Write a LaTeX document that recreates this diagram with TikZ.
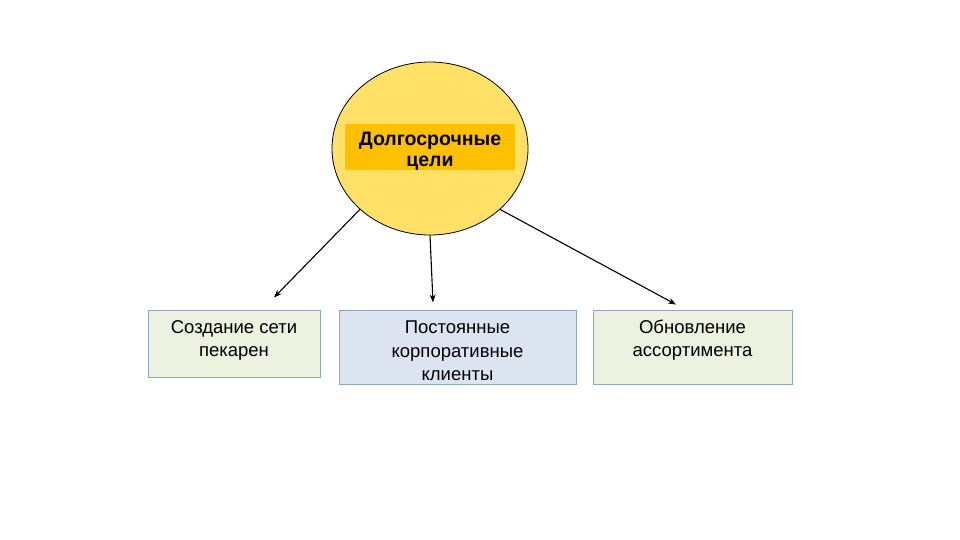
\documentclass[tikz,border=0pt]{standalone}
\usepackage{fontspec}
\setmainfont{Liberation Sans}
\usetikzlibrary{shapes.geometric,arrows.meta,calc}
\definecolor{circfill}{HTML}{FFE168}
\definecolor{orangebar}{HTML}{FFC000}
\definecolor{greenbox}{HTML}{EDF1E0}
\definecolor{bluebox}{HTML}{DBE4F0}
\definecolor{boxline}{HTML}{8CA6C6}
\tikzset{
  boxshape/.style={draw=boxline, line width=1pt, inner sep=0pt},
  boxtxt/.style={align=center, inner sep=0pt, anchor=north, font=\fontsize{18.5}{23.5}\selectfont},
  arr/.style={-{Stealth[length=8pt,width=6pt]}, line width=1.1pt, black},
}
\begin{document}
\begin{tikzpicture}[x=1pt,y=-1pt]
\useasboundingbox[fill=white] (0,0) rectangle (960,540);
% central ellipse
\node[ellipse, draw=black, line width=0.8pt, fill=circfill, minimum width=196pt, minimum height=173pt, inner sep=0pt] (c) at (430,148.5) {};
\node[fill=orangebar, minimum width=170pt, minimum height=46pt, inner sep=0pt] (bar) at (430,147) {};
\node[align=center, inner sep=0pt, font=\bfseries\fontsize{19.5}{20.5}\selectfont] (ctxt) at ($(bar.center)+(0,4)$) {Долгосрочные\\цели};
% boxes
\node[boxshape, fill=greenbox, minimum width=172pt, minimum height=67pt] (b1) at (234,343.5) {};
\node[boxshape, fill=bluebox, minimum width=237pt, minimum height=74pt] (b2) at (457.5,347) {};
\node[boxshape, fill=greenbox, minimum width=199pt, minimum height=74pt] (b3) at (692.5,347) {};
\node[boxtxt] (t1) at ($(b1.north)+(0,10.5)$) {Создание сети\\пекарен};
\node[boxtxt] (t2) at ($(b2.north)+(0,11.5)$) {Постоянные\\корпоративные\\клиенты};
\node[boxtxt] (t3) at ($(b3.north)+(0,10)$) {Обновление\\ассортимента};
% arrows
\draw[arr] (c.221) -- ($(b1.north)+(40,-12)$);
\draw[arr] (c.south) -- ($(b2.north)+(-24.5,-7)$);
\draw[arr] (c.319.5) -- ($(b3.north)+(-16.5,-5)$);
\end{tikzpicture}
\end{document}
